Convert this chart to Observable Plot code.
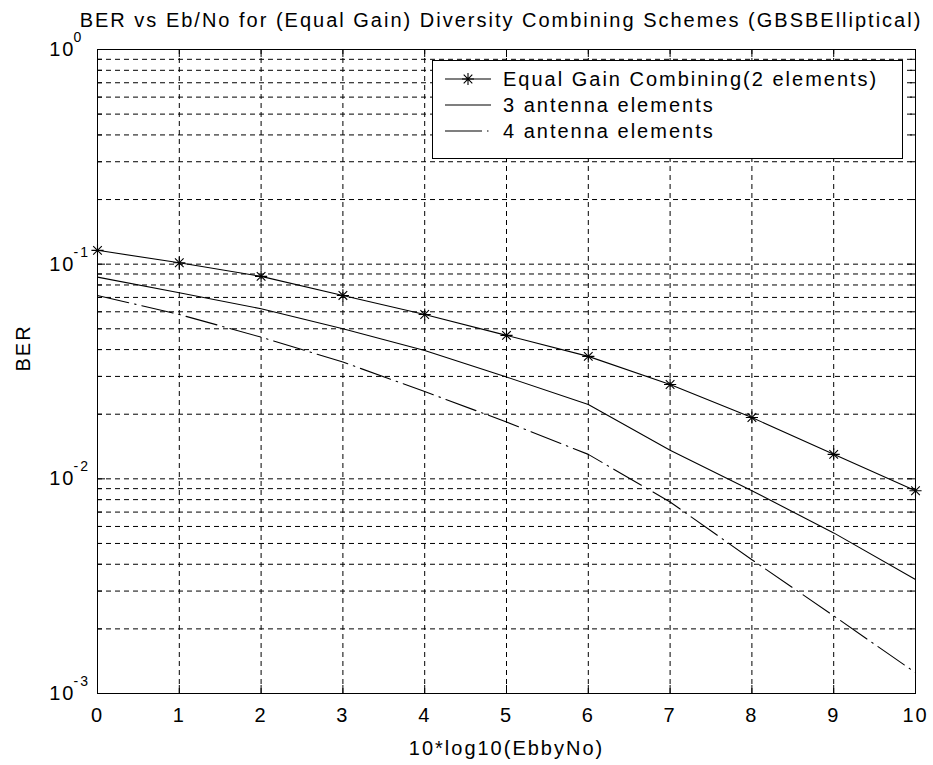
<!DOCTYPE html>
<html><head><meta charset="utf-8">
<script src="https://cdn.jsdelivr.net/npm/d3@7"></script>
<script src="https://cdn.jsdelivr.net/npm/@observablehq/plot@0.6"></script>
<style>
body{margin:0;background:#fff;}
#wrap{position:relative;width:933px;height:765px;font-family:"Liberation Sans",Arial,sans-serif;letter-spacing:2px;color:#000;overflow:hidden;}
#title{position:absolute;top:8px;left:501px;transform:translateX(-50%);white-space:nowrap;font-size:20px;line-height:24px;}
#chart{position:absolute;left:0;top:36px;}
#legend{position:absolute;left:432px;top:60px;width:471px;height:99px;box-sizing:border-box;border:1px solid #000;background:#fff;padding-top:5px;}
.row{height:26px;line-height:26px;font-size:20px;position:relative;white-space:nowrap;}
.row svg{position:absolute;left:0;top:0;}
.row span{position:absolute;left:70px;top:0;}
</style>
</head><body>
<div id="wrap">
  <div id="chart"></div>
  <div id="title"></div>
  <div id="legend"></div>
</div>
<script>
// ---- data ----
const title = "BER vs Eb/No for (Equal Gain) Diversity Combining Schemes (GBSBElliptical)";
const xLabel = "10*log10(EbbyNo)";
const yLabel = "BER";
const snr = [0, 1, 2, 3, 4, 5, 6, 7, 8, 9, 10];
const berEGC2 = [0.116, 0.1015, 0.0877, 0.0715, 0.0583, 0.0466, 0.0372, 0.0275, 0.0193, 0.0130, 0.0088];
const ber3 = [0.087, 0.0736, 0.062, 0.050, 0.0396, 0.0298, 0.0222, 0.0136, 0.0088, 0.0056, 0.0034];
const ber4 = [0.0715, 0.0583, 0.0457, 0.035, 0.0255, 0.0184, 0.0130, 0.0078, 0.0042, 0.0023, 0.00125];
const seriesNames = ["Equal Gain Combining(2 elements)", "3 antenna elements", "4 antenna elements"];
const xTicks = [0, 1, 2, 3, 4, 5, 6, 7, 8, 9, 10];
const yMajor = [1e-3, 1e-2, 1e-1, 1];
const yExp = ["-3", "-2", "-1", "0"];

// ---- layout ----
const W = 933, H = 729;
const mL = 97, mR = 18, mT = 13, mB = 72;
const PW = W - mL - mR, PH = H - mT - mB;
const majorLen = 8, minorLen = 5;
const gridDash = "5,4";
const font = '"Liberation Sans", Arial, sans-serif';

const yMinor = yMajor.slice(0, -1).flatMap(d => [2,3,4,5,6,7,8,9].map(k => k * d));
const yGrid = [...yMinor, ...yMajor.slice(1, -1)];
const xGrid = xTicks.slice(1, -1);

const rows = (ys, s) => snr.map((x, i) => ({x, y: ys[i], s}));
const dEGC = rows(berEGC2, seriesNames[0]);
const d3a = rows(ber3, seriesNames[1]);
const d4a = rows(ber4, seriesNames[2]);

document.getElementById("title").textContent = title;

const chart = Plot.plot({
  width: W, height: H,
  marginLeft: mL, marginRight: mR, marginTop: mT, marginBottom: mB,
  style: {fontFamily: font, fontSize: "20px", overflow: "visible", letterSpacing: "2px", background: "transparent", color: "black"},
  x: {domain: [0, 10], axis: null},
  y: {type: "log", domain: [1e-3, 1], axis: null},
  marks: [
    Plot.ruleY(yGrid, {y: d => d, stroke: "black", strokeWidth: 1, strokeDasharray: gridDash}),
    Plot.ruleX(xGrid, {x: d => d, stroke: "black", strokeWidth: 1, strokeDasharray: gridDash}),
    // ticks (inward)
    Plot.tickY(yMajor, {y: d => d, stroke: "black", insetRight: PW - majorLen}),
    Plot.tickY(yMajor, {y: d => d, stroke: "black", insetLeft: PW - majorLen}),
    Plot.tickY(yMinor, {y: d => d, stroke: "black", insetRight: PW - minorLen}),
    Plot.tickY(yMinor, {y: d => d, stroke: "black", insetLeft: PW - minorLen}),
    Plot.tickX(xTicks, {x: d => d, stroke: "black", insetTop: PH - majorLen}),
    Plot.tickX(xTicks, {x: d => d, stroke: "black", insetBottom: PH - majorLen}),
    // series
    Plot.line(dEGC, {x: "x", y: "y", stroke: "black", strokeWidth: 1.1}),
    Plot.line(d3a, {x: "x", y: "y", stroke: "black", strokeWidth: 1.1}),
    Plot.line(d4a, {x: "x", y: "y", stroke: "black", strokeWidth: 1.1, strokeDasharray: "32,6,1.5,6"}),
    Plot.dot(dEGC, {x: "x", y: "y", symbol: "plus", r: 4, stroke: "black", fill: "none", strokeWidth: 1.1}),
    Plot.dot(dEGC, {x: "x", y: "y", symbol: "times", r: 4, stroke: "black", fill: "none", strokeWidth: 1.1}),
    Plot.frame({stroke: "black", strokeWidth: 1}),
    // tick labels
    Plot.text(xTicks, {x: d => d, text: d => String(d), frameAnchor: "bottom", dy: 22, lineAnchor: "middle", fontSize: 20, fill: "black"}),
    Plot.text(yMajor, {y: d => d, text: () => "10", frameAnchor: "left", textAnchor: "end", dx: -22, lineAnchor: "middle", fontSize: 20, fill: "black"}),
    Plot.text(yMajor, {y: d => d, text: (d, i) => yExp[i], frameAnchor: "left", textAnchor: "start", dx: -24, dy: -12, lineAnchor: "middle", fontSize: 14, fill: "black"}),
    // axis labels
    Plot.text([xLabel], {text: d => d, frameAnchor: "bottom", dy: 55, lineAnchor: "middle", fontSize: 20, fill: "black"}),
    Plot.text([yLabel], {text: d => d, frameAnchor: "left", dx: -74, rotate: -90, lineAnchor: "middle", fontSize: 20, fill: "black"})
  ]
});
document.getElementById("chart").appendChild(chart);

// ---- legend ----
const legend = document.getElementById("legend");
const samples = [
  `<line x1="12" y1="13" x2="58" y2="13" stroke="black" stroke-width="1.1"/><path d="M35,7V19M29,13H41M30.7,8.7L39.3,17.3M39.3,8.7L30.7,17.3" stroke="black" stroke-width="1.1" fill="none"/>`,
  `<line x1="12" y1="13" x2="58" y2="13" stroke="black" stroke-width="1.1"/>`,
  `<line x1="12" y1="13" x2="58" y2="13" stroke="black" stroke-width="1.1" stroke-dasharray="37,5,1.5,30"/>`
];
seriesNames.forEach((name, i) => {
  const r = document.createElement("div");
  r.className = "row";
  r.innerHTML = `<svg width="66" height="26">${samples[i]}</svg><span></span>`;
  r.querySelector("span").textContent = name;
  legend.appendChild(r);
});
</script>
</body></html>
